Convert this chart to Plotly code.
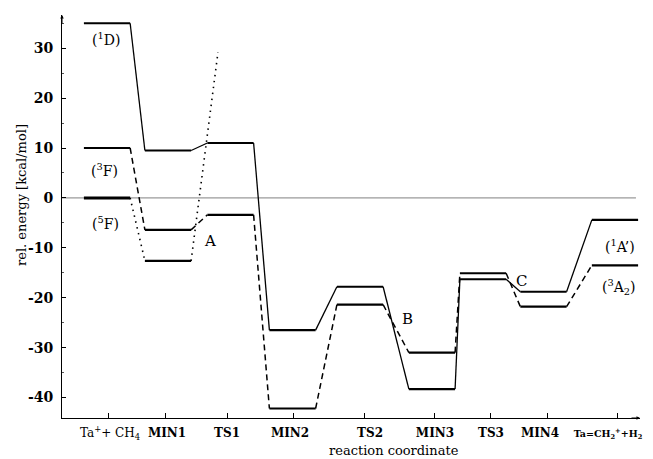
import plotly.graph_objects as go

# ---------------- data ----------------
stages = ["Ta<sup>+</sup>+ CH<sub>4</sub>", "<b>MIN1</b>", "<b>TS1</b>", "<b>MIN2</b>", "<b>TS2</b>",
          "<b>MIN3</b>", "<b>TS3</b>", "<b>MIN4</b>",
          "<b><span style='font-size:9.5px'>Ta=CH<sub>2</sub><sup>+</sup>+H<sub>2</sub></span></b>"]
singlet = [35.0, 9.5, 11.0, -26.5, -17.8, -38.3, -16.3, -18.8, -4.4]
triplet = [10.0, -6.4, -3.4, -42.2, -21.4, -31.0, -15.1, -21.8, -13.5]
quintet = [0.0, -12.6]
quintet_rise_end = 29.2
y_ticks = [-40, -30, -20, -10, 0, 10, 20, 30]
y_ticktext = ["<b>-40</b>", "<b>-30</b>", "<b>-20</b>", "<b>-10</b>", "<b>0</b>", "<b>10</b>", "<b>20</b>", "<b>30</b>"]

# ---------------- layout constants ----------------
OFF = 8  # default page margin of the html body
WIN_W, WIN_H = 653, 459
PL, PR, PT, PB = 62, 640, 15, 418  # plot area in window pixels
W, H = WIN_W - OFF, WIN_H - OFF
L, T = PL - OFF, PT - OFF
R, B = W - (PR - OFF), H - (PB - OFF)
stage_center = [0.779, 1.834, 2.915, 3.988, 5.156, 6.401, 7.284, 8.330, 9.567]
label_pos = [0.830, 1.817, 2.855, 3.945, 5.329, 6.453, 7.422, 8.270, 9.446]
tickmark_pos = [0.813, 1.782, 2.855, 3.997, 5.225, 6.453, 7.422, 8.408, 9.602]
half_w = 0.4
quintet_rise_dx = 0.865
x_range = [0, 10]
y_range = [-44.1, 36.65]


def levels(vals):
    xs, ys = [], []
    for i, v in enumerate(vals):
        c = stage_center[i]
        xs += [c - half_w, c + half_w, None]
        ys += [v, v, None]
    return xs, ys


def connectors(vals):
    xs, ys = [], []
    for i in range(len(vals) - 1):
        xs += [stage_center[i] + half_w, stage_center[i + 1] - half_w, None]
        ys += [vals[i], vals[i + 1], None]
    return xs, ys


fig = go.Figure()

# zero reference line
fig.add_shape(type="line", xref="paper", yref="y", x0=0, x1=0.993, y0=0, y1=0, layer="below",
              line=dict(color="#808080", width=1))

# singlet
cx, cy = connectors(singlet)
fig.add_trace(go.Scatter(x=cx, y=cy, mode="lines", line=dict(color="black", width=1.3),
                         hoverinfo="skip", showlegend=False))
lx, ly = levels(singlet)
fig.add_trace(go.Scatter(x=lx, y=ly, mode="lines", line=dict(color="black", width=2.2),
                         hoverinfo="skip", showlegend=False))

# triplet
cx, cy = connectors(triplet)
fig.add_trace(go.Scatter(x=cx, y=cy, mode="lines", line=dict(color="black", width=1.5, dash="6px,4px"),
                         hoverinfo="skip", showlegend=False))
lx, ly = levels(triplet)
fig.add_trace(go.Scatter(x=lx, y=ly, mode="lines", line=dict(color="black", width=2.2),
                         hoverinfo="skip", showlegend=False))

# quintet
qx, qy = connectors(quintet)
qx += [stage_center[1] + half_w, stage_center[1] + quintet_rise_dx]
qy += [quintet[1], quintet_rise_end]
fig.add_trace(go.Scatter(x=qx, y=qy, mode="lines", line=dict(color="black", width=1.6, dash="1.5px,4.5px"),
                         hoverinfo="skip", showlegend=False))
lx, ly = levels(quintet)
fig.add_trace(go.Scatter(x=lx[:3], y=ly[:3], mode="lines", line=dict(color="black", width=3),
                         hoverinfo="skip", showlegend=False))
fig.add_trace(go.Scatter(x=lx[3:], y=ly[3:], mode="lines", line=dict(color="black", width=2.2),
                         hoverinfo="skip", showlegend=False))


def px(xp, yp):
    return (xp - PL) / (PR - PL), (PB - yp) / (PB - PT)


serif = "DejaVu Serif"
text_labels = [
    ("(<sup>1</sup>D)", 106, 39, 14),
    ("(<sup>3</sup>F)", 104, 170, 14),
    ("(<sup>5</sup>F)", 105, 223, 14),
    ("A", 210, 241, 15),
    ("B", 407, 319, 15),
    ("C", 521, 281, 15),
    ("(<sup>1</sup>A’)", 620, 246, 14),
    ("(<sup>3</sup>A<sub>2</sub>)", 619, 287, 14),
]
for txt, xp, yp, fs in text_labels:
    ax_, ay_ = px(xp, yp)
    fig.add_annotation(x=ax_, y=ay_, xref="paper", yref="paper", text=txt, showarrow=False,
                       font=dict(family=serif, size=fs, color="black"), xanchor="center", yanchor="middle")

# axis titles
tx, ty = px(394, 450)
fig.add_annotation(x=tx, y=ty, xref="paper", yref="paper", text="reaction coordinate", showarrow=False,
                   font=dict(family=serif, size=13, color="black"), xanchor="center", yanchor="middle")
tx, ty = px(21, 195)
fig.add_annotation(x=tx, y=ty, xref="paper", yref="paper", text="rel. energy [kcal/mol]", showarrow=False,
                   textangle=-90, font=dict(family=serif, size=13, color="black"),
                   xanchor="center", yanchor="middle")

# axis arrowheads
fig.add_annotation(x=0, y=1, xref="paper", yref="paper", ax=0, ay=10, showarrow=True,
                   arrowhead=2, arrowsize=0.7, arrowwidth=1, arrowcolor="black", text="")
fig.add_annotation(x=1, y=0, xref="paper", yref="paper", ax=-10, ay=0, showarrow=True,
                   arrowhead=2, arrowsize=0.7, arrowwidth=1, arrowcolor="black", text="")

fig.update_layout(
    width=W, height=H,
    margin=dict(l=L, r=R, t=T, b=B, autoexpand=False),
    paper_bgcolor="white", plot_bgcolor="white",
    showlegend=False,
    xaxis=dict(range=x_range, showgrid=False, zeroline=False, showline=True, linecolor="black",
               linewidth=1, tickmode="array", tickvals=label_pos, ticktext=stages,
               ticks="inside", ticklen=0, tickcolor="black",
               tickfont=dict(family=serif, size=12, color="black"), ticklabelstandoff=4,
               minor=dict(tickmode="array", tickvals=tickmark_pos, ticks="inside", ticklen=5,
                          tickcolor="black", tickwidth=1, showgrid=False),
               fixedrange=True),
    yaxis=dict(range=y_range, showgrid=False, zeroline=False, showline=True, linecolor="black",
               linewidth=1, tickmode="array", tickvals=y_ticks, ticktext=y_ticktext,
               ticks="inside", ticklen=4,
               tickcolor="black", tickfont=dict(family=serif, size=14, color="black"),
               ticklabelstandoff=5,
               minor=dict(dtick=5, ticks="inside", ticklen=2, tickcolor="#555", showgrid=False),
               fixedrange=True),
)

fig.write_html("out.html")
